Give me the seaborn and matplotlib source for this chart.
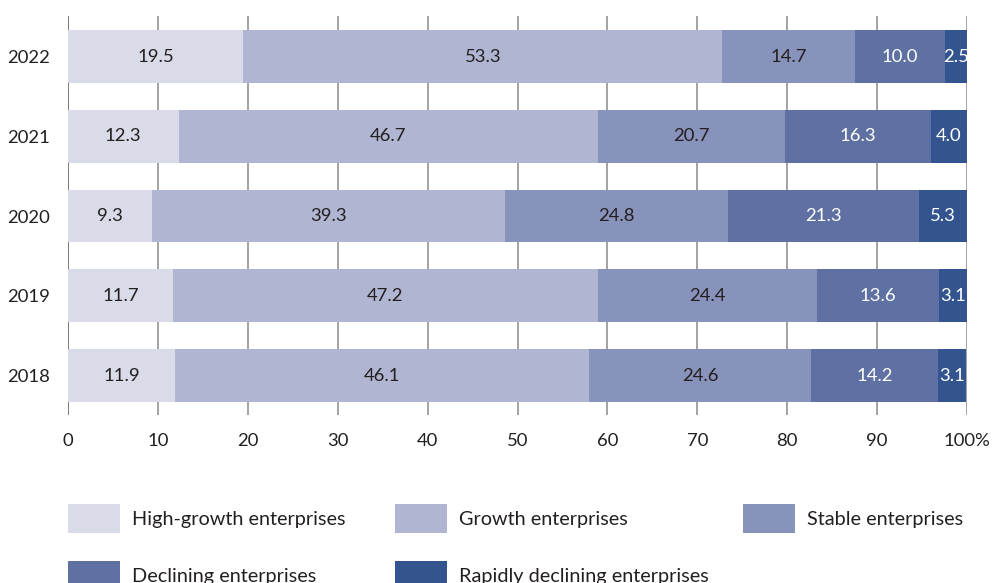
import matplotlib
matplotlib.use("Agg")
import matplotlib.pyplot as plt
import seaborn as sns
import pandas as pd
import numpy as np
from matplotlib.patches import Patch

years = ["2022", "2021", "2020", "2019", "2018"]
high_growth = [19.5, 12.3, 9.3, 11.7, 11.9]
growth = [53.3, 46.7, 39.3, 47.2, 46.1]
stable = [14.7, 20.7, 24.8, 24.4, 24.6]
declining = [10.0, 16.3, 21.3, 13.6, 14.2]
rapidly_declining = [2.5, 4.0, 5.3, 3.1, 3.1]
series_names = ["High-growth enterprises", "Growth enterprises", "Stable enterprises",
                "Declining enterprises", "Rapidly declining enterprises"]
x_ticks = [0, 10, 20, 30, 40, 50, 60, 70, 80, 90, 100]
x_tick_labels = ["0", "10", "20", "30", "40", "50", "60", "70", "80", "90", "100%"]

colors = ["#d9dbe8", "#b0b5d2", "#8893bb", "#5f71a3", "#33548f"]
text_colors = ["#231f20", "#231f20", "#231f20", "#ffffff", "#ffffff"]

sns.set_theme(style="white")
plt.rcParams["font.family"] = ["Lato", "DejaVu Sans"]
FS = 13.3
LFS = 14.3

series = [high_growth, growth, stable, declining, rapidly_declining]
df = pd.DataFrame({"year": years})
for name, vals in zip(series_names, series):
    df[name] = vals
cum = df[series_names].cumsum(axis=1)

fig = plt.figure(figsize=(10.01, 5.83), dpi=100)
ax = fig.add_axes([68/1001, 1 - 415/583, (967-68)/1001, (415-16)/583])

# gridlines behind
for xv in x_ticks:
    ax.axvline(xv, color="#555555" if xv == 0 else "#8a8a8a", lw=1.1, zorder=0)

# stacked bars via reverse cumulative overlay
for i in range(len(series_names) - 1, -1, -1):
    sns.barplot(data=cum.assign(year=years), x=series_names[i], y="year", order=years,
                orient="h", color=colors[i], width=0.66, saturation=1, ax=ax,
                edgecolor="none", linewidth=0, zorder=2 + (len(series_names) - i))

# value labels
for i, name in enumerate(series_names):
    for j, y in enumerate(years):
        v = df[name][j]
        left = cum[name][j] - v
        ax.text(left + v / 2, j, f"{v:.1f}", ha="center", va="center",
                color=text_colors[i], fontsize=FS, zorder=20)

ax.set_xlim(0, 100)
ax.set_ylim(4.495, -0.508)
ax.set_xticks(x_ticks)
ax.set_xticklabels(x_tick_labels, fontsize=FS, color="#231f20")
ax.tick_params(axis="x", length=0, pad=13)
ax.tick_params(axis="y", length=0, pad=13, labelsize=FS, labelcolor="#231f20")
ax.set_xlabel("")
ax.set_ylabel("")
for s in ax.spines.values():
    s.set_visible(False)

# legend: one entry per position
leg_pos = [(68, 518.5), (395, 518.5), (743, 518.5), (68, 575.5), (395, 575.5)]
for k, (name, c) in enumerate(zip(series_names, colors)):
    xp, yp = leg_pos[k]
    lg = fig.legend([Patch(facecolor=c, edgecolor="none")], [name],
                    loc="center left", bbox_to_anchor=(xp/1001, 1 - yp/583),
                    frameon=False, fontsize=LFS, handlelength=2.6, handleheight=1.88,
                    handletextpad=0.62, borderpad=0, borderaxespad=0)
    for t in lg.get_texts():
        t.set_color("#231f20")

fig.savefig("out.png", dpi=100)
